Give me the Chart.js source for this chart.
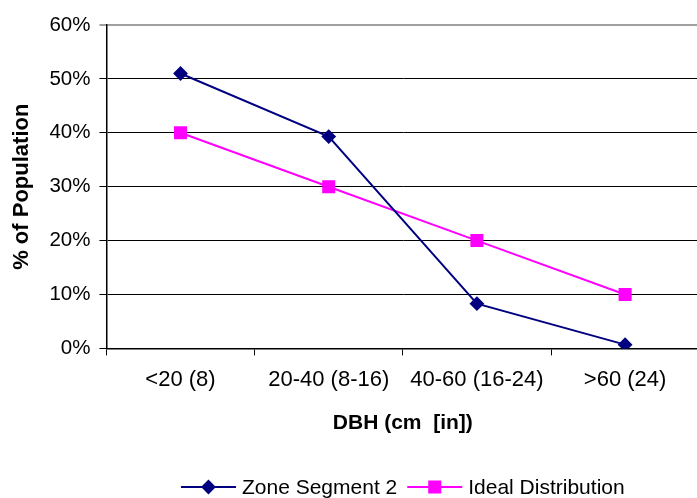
<!DOCTYPE html>
<html lang="en">
<head>
  <meta charset="UTF-8">
  <title>DBH distribution</title>
  <script src="https://cdn.jsdelivr.net/npm/chart.js"></script>
  <style>
    html, body { margin:0; padding:0; background:#fff; overflow:hidden; }
    #wrap { width:709px; height:498px; }
  </style>
</head>
<body>
  <div id="wrap"><canvas id="c" width="709" height="498"></canvas></div>
  <script>
    const categories = ['<20 (8)', '20-40 (8-16)', '40-60 (16-24)', '>60 (24)'];
    const zoneSegment2 = [0.51, 0.393, 0.083, 0.007];
    const idealDistribution = [0.40, 0.30, 0.20, 0.10];
    const yTicks = [0, 0.1, 0.2, 0.3, 0.4, 0.5, 0.6];

    const FONT = '"Liberation Sans", Arial, sans-serif';

    // legend drawn as line + marker like the spreadsheet original
    const lineLegend = {
      id: 'lineLegend',
      afterDraw(chart) {
        const ctx = chart.ctx, area = chart.chartArea;
        ctx.save();
        ctx.font = '21px ' + FONT;
        ctx.textBaseline = 'middle';
        const items = chart.data.datasets.map(ds => ({ ds, w: 55 + 6 + ctx.measureText(ds.label).width }));
        const gap = 10;
        const total = items.reduce((s, it) => s + it.w, 0) + gap * (items.length - 1);
        let x = (area.left + area.right) / 2 - total / 2;
        const y = 487;
        items.forEach(it => {
          ctx.strokeStyle = it.ds.borderColor;
          ctx.lineWidth = it.ds.borderWidth;
          ctx.beginPath(); ctx.moveTo(x, y); ctx.lineTo(x + 55, y); ctx.stroke();
          ctx.fillStyle = it.ds.pointBackgroundColor;
          ctx.strokeStyle = it.ds.pointBorderColor;
          Chart.helpers.drawPoint(ctx, {
            pointStyle: it.ds.pointStyle, radius: it.ds.pointRadius, borderWidth: 1, rotation: 0
          }, x + 27.5, y);
          ctx.fillStyle = '#000';
          ctx.fillText(it.ds.label, x + 61, y + 1);
          x += it.w + gap;
        });
        ctx.restore();
      }
    };

    new Chart(document.getElementById('c'), {
      type: 'line',
      data: {
        labels: categories,
        datasets: [
          {
            label: 'Zone Segment 2', data: zoneSegment2,
            borderColor: '#000080', borderWidth: 2,
            pointStyle: 'rectRot', pointRadius: 6,
            pointBackgroundColor: '#000080', pointBorderColor: '#000080',
            tension: 0
          },
          {
            label: 'Ideal Distribution', data: idealDistribution,
            borderColor: '#FF00FF', borderWidth: 2,
            pointStyle: 'rect', pointRadius: 7.8,
            pointBackgroundColor: '#FF00FF', pointBorderColor: '#FF00FF',
            tension: 0
          }
        ]
      },
      options: {
        responsive: false,
        animation: false,
        devicePixelRatio: 1,
        layout: { padding: { top: 25, left: 5, right: 4, bottom: 58 } },
        plugins: { legend: { display: false }, tooltip: { enabled: false } },
        scales: {
          x: {
            offset: true,
            grid: { display: true, drawOnChartArea: false, offset: true, color: '#000', tickLength: 7 },
            border: { color: '#000', width: 1.5 },
            ticks: { color: '#000', font: { family: FONT, size: 22 }, padding: 11, maxRotation: 0, autoSkip: false },
            title: { display: true, text: 'DBH (cm  [in])', color: '#000', font: { family: FONT, size: 21, weight: 'bold' }, padding: { top: 7 } }
          },
          y: {
            min: 0, max: 0.6,
            afterBuildTicks: s => { s.ticks = yTicks.map(v => ({ value: v })); },
            grid: {
              color: ctx => (ctx.tick && ctx.tick.value >= 0.6 ? '#a0a0a0' : '#000'),
              lineWidth: ctx => (ctx.tick && ctx.tick.value >= 0.6 ? 2 : 1),
              tickLength: 7
            },
            border: { color: '#000', width: 1.5 },
            ticks: {
              color: '#000', font: { family: FONT, size: 20.5 }, padding: 9,
              callback: v => Math.round(v * 100) + '%'
            },
            title: { display: true, text: '% of Population', color: '#000', font: { family: FONT, size: 22, weight: 'bold' }, padding: { bottom: 5 } }
          }
        }
      },
      plugins: [lineLegend]
    });
  </script>
</body>
</html>
